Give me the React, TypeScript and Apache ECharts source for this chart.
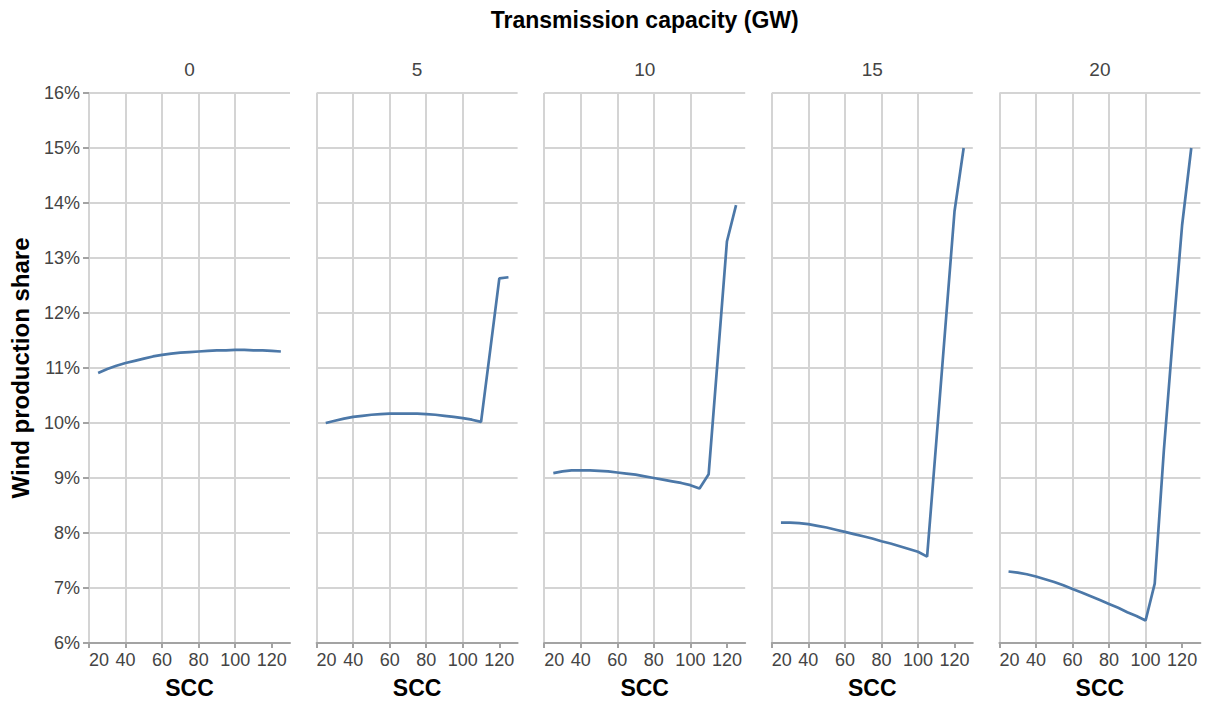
import React, { useEffect, useRef } from "react";
import * as echarts from "echarts";

// SCC values (x)
const scc = [25, 30, 35, 40, 45, 50, 55, 60, 65, 70, 75, 80, 85, 90, 95, 100, 105, 110, 115, 120, 125];

// Facet labels: transmission capacity (GW)
const capacities = ["0", "5", "10", "15", "20"];

// Wind production share (%) per transmission capacity
const share0 = [10.91, 10.98, 11.04, 11.09, 11.13, 11.17, 11.21, 11.24, 11.26, 11.28, 11.29, 11.3, 11.31, 11.32, 11.32, 11.33, 11.33, 11.32, 11.32, 11.31, 11.3];
const share5 = [10.0, 10.04, 10.08, 10.11, 10.13, 10.15, 10.16, 10.17, 10.17, 10.17, 10.17, 10.16, 10.15, 10.13, 10.11, 10.09, 10.06, 10.02, 11.32, 12.63, 12.65];
const share10 = [9.09, 9.12, 9.14, 9.14, 9.14, 9.13, 9.12, 9.1, 9.08, 9.06, 9.03, 9.0, 8.97, 8.94, 8.91, 8.87, 8.81, 9.07, 11.18, 13.3, 13.96];
const share15 = [8.19, 8.19, 8.18, 8.16, 8.13, 8.1, 8.06, 8.02, 7.98, 7.94, 7.9, 7.85, 7.81, 7.76, 7.71, 7.66, 7.57, 9.65, 11.75, 13.85, 15.0];
const share20 = [7.3, 7.28, 7.25, 7.21, 7.16, 7.11, 7.05, 6.98, 6.92, 6.85, 6.78, 6.71, 6.64, 6.56, 6.49, 6.41, 7.08, 9.5, 11.6, 13.6, 15.0];

const shares = [share0, share5, share10, share15, share20];

// Axis ticks
const xTicks = [20, 40, 60, 80, 100, 120];
const xMin = 20;
const xMax = 130;
const yMin = 6;
const yMax = 16;

const FONT = '"Liberation Sans", Arial, Helvetica, sans-serif';
const GRID_COLOR = "#d4d4d4";
const AXIS_COLOR = "#a3a3a3";
const LABEL_COLOR = "#444";
const LINE_COLOR = "#4c78a8";

const PANEL_LEFT = 89;
const PANEL_STEP = 227.6;
const PANEL_W = 201;
const PANEL_TOP = 93;
const PANEL_H = 550;

export default function App() {
  const ref = useRef<HTMLDivElement>(null);

  useEffect(() => {
    if (!ref.current) return;
    const chart = echarts.init(ref.current, undefined, { renderer: "svg" });

    const grids = capacities.map((_, i) => ({
      left: PANEL_LEFT + i * PANEL_STEP,
      top: PANEL_TOP,
      width: PANEL_W,
      height: PANEL_H,
      containLabel: false,
      outerBoundsMode: "none",
    }));

    const xAxes = capacities.map((_, i) => ({
      type: "value",
      gridIndex: i,
      min: xMin,
      max: xMax,
      interval: 20,
      name: "SCC",
      nameLocation: "middle",
      nameGap: 33,
      nameTextStyle: { fontSize: 23, fontWeight: "bold", color: "#000", fontFamily: FONT },
      axisLine: { show: true, lineStyle: { color: AXIS_COLOR, width: 2 } },
      axisTick: { show: true, length: 5, customValues: xTicks, lineStyle: { color: AXIS_COLOR, width: 2 } },
      axisLabel: {
        show: true,
        customValues: xTicks,
        interval: 0,
        alignMinLabel: "left",
        fontSize: 18,
        color: LABEL_COLOR,
        fontFamily: FONT,
        margin: 8,
        formatter: (v: number) => (v === xMax ? "" : String(v)),
      },
      splitLine: { show: true, showMinLine: true, showMaxLine: false, lineStyle: { color: GRID_COLOR, width: 2 } },
    }));

    const yAxes = capacities.map((_, i) => ({
      type: "value",
      gridIndex: i,
      min: yMin,
      max: yMax,
      interval: 1,
      axisLine: { show: false },
      axisTick: { show: i === 0, length: 6, lineStyle: { color: AXIS_COLOR, width: 2 } },
      axisLabel: {
        show: i === 0,
        formatter: "{value}%",
        fontSize: 18,
        color: LABEL_COLOR,
        fontFamily: FONT,
        margin: 9,
      },
      splitLine: { show: true, showMinLine: true, showMaxLine: true, lineStyle: { color: GRID_COLOR, width: 2 } },
    }));

    const series = capacities.map((cap, i) => ({
      type: "line",
      name: cap,
      xAxisIndex: i,
      yAxisIndex: i,
      data: scc.map((x, j) => [x, shares[i][j]]),
      showSymbol: false,
      symbol: "none",
      lineStyle: { color: LINE_COLOR, width: 2.7 },
      itemStyle: { color: LINE_COLOR },
      z: 3,
    }));

    const graphic: any[] = [
      {
        type: "text",
        x: PANEL_LEFT + (4 * PANEL_STEP + PANEL_W) / 2,
        y: 20,
        style: {
          text: "Transmission capacity (GW)",
          fontSize: 23,
          fontWeight: "bold",
          fontFamily: FONT,
          fill: "#000",
          align: "center",
          verticalAlign: "middle",
        },
      },
      {
        type: "text",
        x: 20,
        y: PANEL_TOP + PANEL_H / 2,
        rotation: Math.PI / 2,
        style: {
          text: "Wind production share",
          fontSize: 24,
          fontWeight: "bold",
          fontFamily: FONT,
          fill: "#000",
          align: "center",
          verticalAlign: "middle",
        },
      },
      ...capacities.map((cap, i) => ({
        type: "text",
        x: PANEL_LEFT + i * PANEL_STEP + PANEL_W / 2,
        y: 69,
        style: {
          text: cap,
          fontSize: 19,
          fontFamily: FONT,
          fill: LABEL_COLOR,
          align: "center",
          verticalAlign: "middle",
        },
      })),
    ];

    chart.setOption({
      animation: false,
      backgroundColor: "#fff",
      grid: grids,
      xAxis: xAxes,
      yAxis: yAxes,
      series,
      graphic,
    } as any);

    return () => chart.dispose();
  }, []);

  return (
    <div
      ref={ref}
      style={{ position: "fixed", left: 0, top: 0, width: 1207, height: 704, background: "#fff" }}
    />
  );
}
